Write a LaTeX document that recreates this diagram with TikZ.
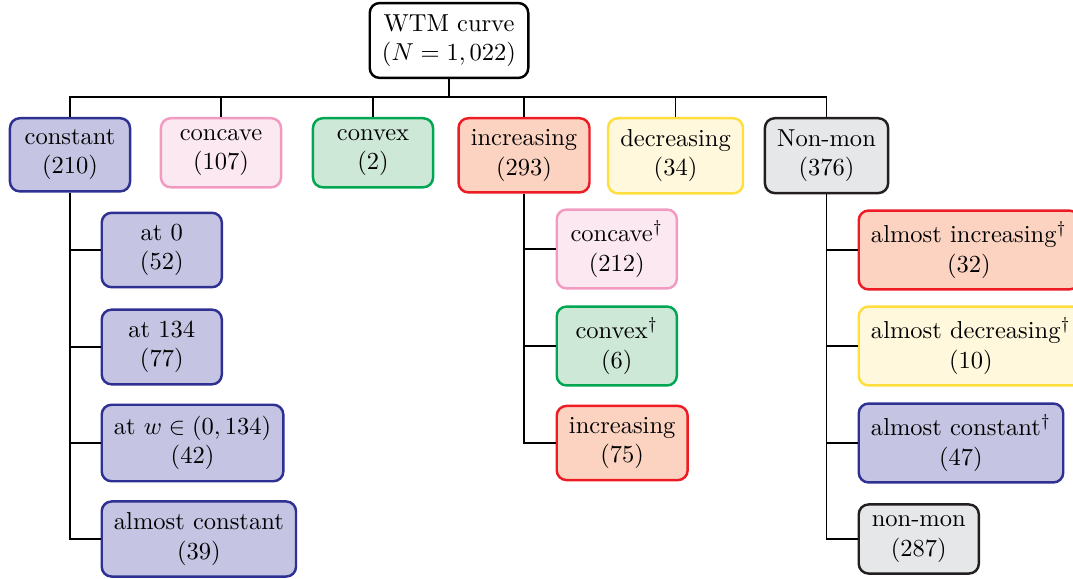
\documentclass[tikz,border=0pt]{standalone}
\usetikzlibrary{positioning}
\definecolor{cstfill}{RGB}{197,196,226}
\definecolor{cstdraw}{RGB}{46,49,146}
\definecolor{ccvfill}{RGB}{251,232,241}
\definecolor{ccvdraw}{RGB}{242,155,193}
\definecolor{cvxfill}{RGB}{205,232,215}
\definecolor{cvxdraw}{RGB}{0,166,81}
\definecolor{incfill}{RGB}{252,211,193}
\definecolor{incdraw}{RGB}{237,28,36}
\definecolor{decfill}{RGB}{255,248,220}
\definecolor{decdraw}{RGB}{255,222,62}
\definecolor{nmonfill}{RGB}{230,231,232}
\definecolor{nmondraw}{RGB}{35,31,32}
\tikzset{
  box/.style={draw,rounded corners=4pt,line width=1pt,align=center,inner xsep=5pt,inner ysep=4.6pt,minimum width=49pt},
  cst/.style={box,fill=cstfill,draw=cstdraw},
  ccv/.style={box,fill=ccvfill,draw=ccvdraw},
  cvx/.style={box,fill=cvxfill,draw=cvxdraw},
  inc/.style={box,fill=incfill,draw=incdraw},
  dec/.style={box,fill=decfill,draw=decdraw},
  nmon/.style={box,fill=nmonfill,draw=nmondraw},
  link/.style={line width=.5pt}
}
\begin{document}
\begin{tikzpicture}[x=.408pt,y=-.408pt]
  \useasboundingbox (0,0) rectangle (1073,579);
  % root
  \node[box,draw=black] (root) at (449,40.5) {WTM curve\\$(N=1,022)$};
  \coordinate (bar) at (449,97);
  % first level
  \node[cst,anchor=north] (constant) at (70,117) {constant\\(210)};
  \node[ccv,anchor=north] (concave) at (221,117) {concave\\(107)};
  \node[cvx,anchor=north] (convex) at (373,117) {convex\\(2)};
  \node[inc,anchor=north] (increasing) at (524,117) {increasing\\(293)};
  \node[dec,anchor=north] (decreasing) at (675.5,117) {decreasing\\(34)};
  \node[nmon,anchor=north] (nonmon) at (826.5,117) {Non-mon\\(376)};
  % constant
  \node[cst,anchor=west] (cz) at (100.5,250) {at 0\\(52)};
  \node[cst,anchor=west] (cm) at (100.5,347) {at 134\\(77)};
  \node[cst,anchor=west] (cw) at (100.5,443) {at $w\in(0,134)$\\(42)};
  \node[cst,anchor=west] (ca) at (100.5,539) {almost constant\\(39)};
  % increasing
  \node[ccv,anchor=west] (iccv) at (555.5,249) {concave$^\dagger$\\(212)};
  \node[cvx,anchor=west] (icvx) at (555.5,346) {convex$^\dagger$\\(6)};
  \node[inc,anchor=west] (iinc) at (555.5,443) {increasing\\(75)};
  % non-mon
  \node[inc,anchor=west] (ninc) at (857.5,250) {almost increasing$^\dagger$\\(32)};
  \node[dec,anchor=west] (ndec) at (857.5,346) {almost decreasing$^\dagger$\\(10)};
  \node[cst,anchor=west] (ncst) at (857.5,443) {almost constant$^\dagger$\\(47)};
  \node[nmon,anchor=west] (nnm) at (857.5,539) {non-mon\\(287)};
  % edges
  \draw[link] (root.south) -- (bar);
  \foreach \n in {constant,concave,convex,increasing,decreasing,nonmon}
    \draw[link] (bar) -| (\n.north);
  \foreach \n in {cz,cm,cw,ca}
    \draw[link] (constant.south) |- (\n.west);
  \foreach \n in {iccv,icvx,iinc}
    \draw[link] (increasing.south) |- (\n.west);
  \foreach \n in {ninc,ndec,ncst,nnm}
    \draw[link] (nonmon.south) |- (\n.west);
\end{tikzpicture}
\end{document}
